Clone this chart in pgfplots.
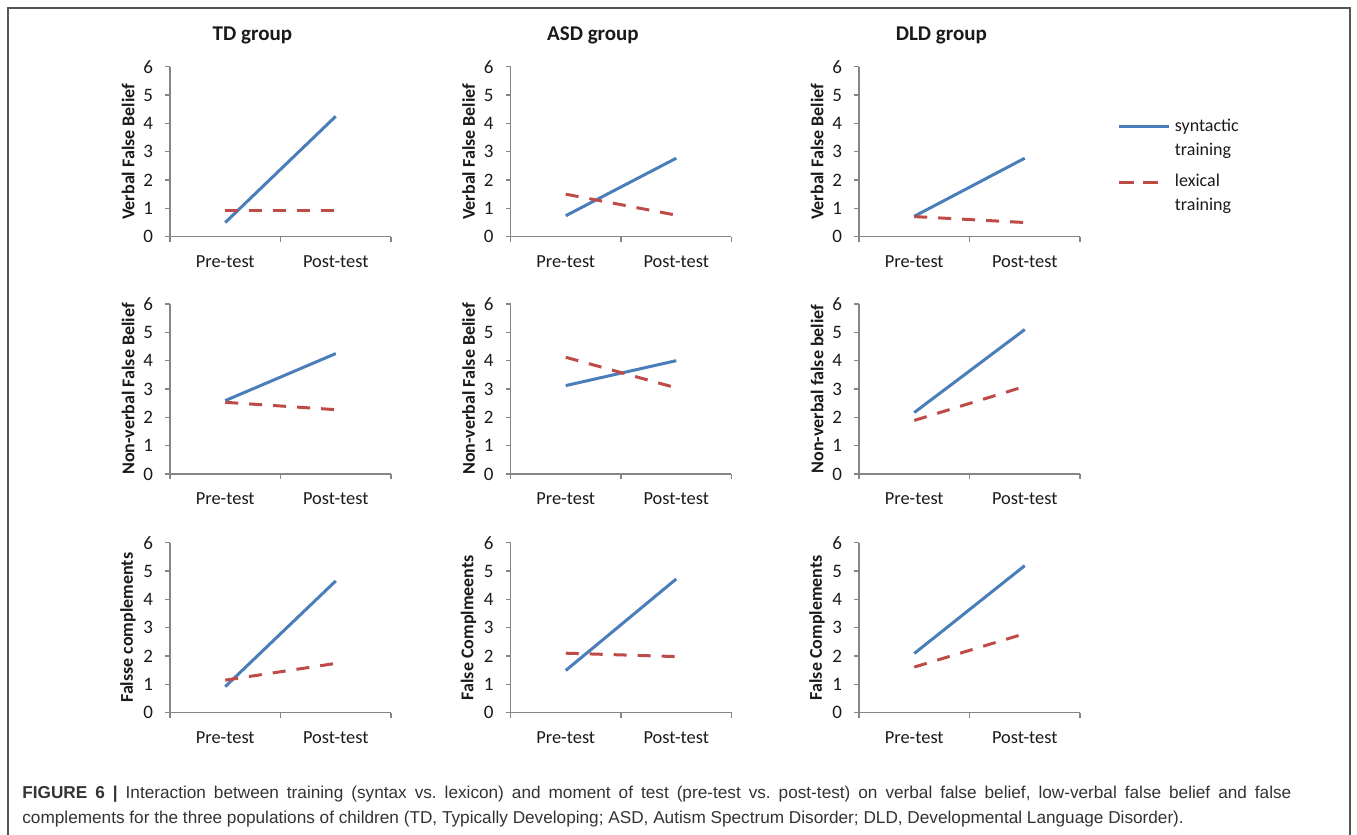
\documentclass[border=0pt]{standalone}
\usepackage{fontspec}
\setmainfont{Carlito}
\newfontfamily\capfont{Liberation Sans}
\usepackage{pgfplots}
\pgfplotsset{compat=1.18}
\definecolor{synblue}{HTML}{4A7EBB}
\definecolor{lexred}{HTML}{BE4B48}
\definecolor{axgray}{HTML}{868686}
\definecolor{framegray}{HTML}{555555}
\definecolor{captext}{HTML}{333333}
\definecolor{labtext}{HTML}{1A1A1A}
\pgfplotsset{
  panel/.style={
    scale only axis, width=110.5pt, height=85pt,
    xmin=0, xmax=2, ymin=0, ymax=6,
    axis x line=bottom, axis y line=left,
    axis line style={-, draw=axgray, line width=0.6pt},
    xtick={0,1,2}, xticklabels={},
    extra x ticks={0.5,1.5}, extra x tick labels={Pre-test,Post-test},
    extra x tick style={major tick length=0pt},
    ytick={0,1,2,3,4,5,6},
    tick align=outside, major tick length=2.5pt,
    tick style={draw=axgray, line width=0.6pt},
    /pgf/number format/assume math mode=true,
    yticklabel style={font=\fontsize{9.5}{11}\selectfont, text=labtext, xshift=-2.5pt},
    xticklabel style={font=\fontsize{9.2}{11}\selectfont, text=labtext, yshift=-6pt},
    ylabel style={at={(axis description cs:-0.19,0.5)}, anchor=center, rotate=0,
      font=\bfseries\fontsize{9}{11}\selectfont, text=labtext},
    title style={at={(axis description cs:0.373,1)}, anchor=center, yshift=9.85pt,
      font=\bfseries\fontsize{10.5}{12}\selectfont, text=labtext},
    no marks,
    clip=false,
  },
  syn/.style={synblue, line width=1.5pt},
  lex/.style={lexred, line width=1.5pt, dash pattern=on 6.5pt off 5.5pt},
  synleg/.style={legend image code/.code={\draw[##1] (0pt,6pt) -- (25pt,6pt);}},
  lexleg/.style={legend image code/.code={\draw[##1, dash pattern=on 7.5pt off 4.5pt] (0pt,6pt) -- (19.5pt,6pt);}},
}
\begin{document}
\frenchspacing
\begin{tikzpicture}
\useasboundingbox (0,0) rectangle (678.5pt,417.5pt);
\draw[framegray, line width=0.75pt] (4pt,0pt) -- (4pt,413.5pt) -- (675pt,413.5pt) -- (675pt,0pt);

% Row 1
\begin{axis}[panel, at={(85pt,299.15pt)}, anchor=south west, title={TD group}, ylabel={Verbal False Belief}]
\addplot[syn] coordinates {(0.5,0.50) (1.5,4.25)};
\addplot[lex] coordinates {(0.5,0.91) (1.5,0.91)};
\end{axis}
\begin{axis}[panel, at={(255.25pt,299.15pt)}, anchor=south west, title={ASD group}, ylabel={Verbal False Belief}]
\addplot[syn] coordinates {(0.5,0.74) (1.5,2.77)};
\addplot[lex] coordinates {(0.5,1.50) (1.5,0.76)};
\end{axis}
\begin{axis}[panel, at={(429.5pt,299.15pt)}, anchor=south west, title={DLD group}, ylabel={Verbal False Belief},
  legend style={at={(1.17,0.718)}, anchor=north west, draw=none, fill=none, inner sep=0pt,
    font=\fontsize{9}{12}\selectfont, text=labtext, cells={anchor=west, align=left}, row sep=4pt}]
\addplot[syn, synleg] coordinates {(0.5,0.72) (1.5,2.77)};
\addlegendentry{syntactic\\training}
\addplot[lex, lexleg] coordinates {(0.5,0.71) (1.5,0.50)};
\addlegendentry{lexical\\training}
\end{axis}

% Row 2
\begin{axis}[panel, at={(85pt,180.5pt)}, anchor=south west, ylabel={Non-verbal False Belief}]
\addplot[syn] coordinates {(0.5,2.59) (1.5,4.25)};
\addplot[lex] coordinates {(0.5,2.53) (1.5,2.27)};
\end{axis}
\begin{axis}[panel, at={(255.25pt,180.5pt)}, anchor=south west, ylabel={Non-verbal False Belief}]
\addplot[syn] coordinates {(0.5,3.12) (1.5,4.00)};
\addplot[lex] coordinates {(0.5,4.12) (1.5,3.04)};
\end{axis}
\begin{axis}[panel, at={(429.5pt,180.5pt)}, anchor=south west, ylabel={Non-verbal false belief}]
\addplot[syn] coordinates {(0.5,2.17) (1.5,5.10)};
\addplot[lex] coordinates {(0.5,1.89) (1.5,3.09)};
\end{axis}

% Row 3
\begin{axis}[panel, at={(85pt,61.15pt)}, anchor=south west, ylabel={Falsse complements}]
\addplot[syn] coordinates {(0.5,0.92) (1.5,4.65)};
\addplot[lex] coordinates {(0.5,1.15) (1.5,1.74)};
\end{axis}
\begin{axis}[panel, at={(255.25pt,61.15pt)}, anchor=south west, ylabel={False Complmeents}]
\addplot[syn] coordinates {(0.5,1.49) (1.5,4.72)};
\addplot[lex] coordinates {(0.5,2.10) (1.5,1.98)};
\end{axis}
\begin{axis}[panel, at={(429.5pt,61.15pt)}, anchor=south west, ylabel={False Complements}]
\addplot[syn] coordinates {(0.5,2.09) (1.5,5.19)};
\addplot[lex] coordinates {(0.5,1.61) (1.5,2.79)};
\end{axis}

\node[anchor=west, inner sep=0pt, text=captext, font=\capfont\fontsize{8.6}{10}\selectfont] at (11pt,20.5pt)
  {\makebox[634.5pt][s]{\textbf{FIGURE 6 |} Interaction between training (syntax vs. lexicon) and moment of test (pre-test vs. post-test) on verbal false belief, low-verbal false belief and false}};
\node[anchor=west, inner sep=0pt, text=captext, font=\capfont\fontsize{8.6}{10}\selectfont] at (11pt,8pt)
  {complements for the three populations of children (TD, Typically Developing; ASD, Autism Spectrum Disorder; DLD, Developmental Language Disorder).};
\end{tikzpicture}
\end{document}
